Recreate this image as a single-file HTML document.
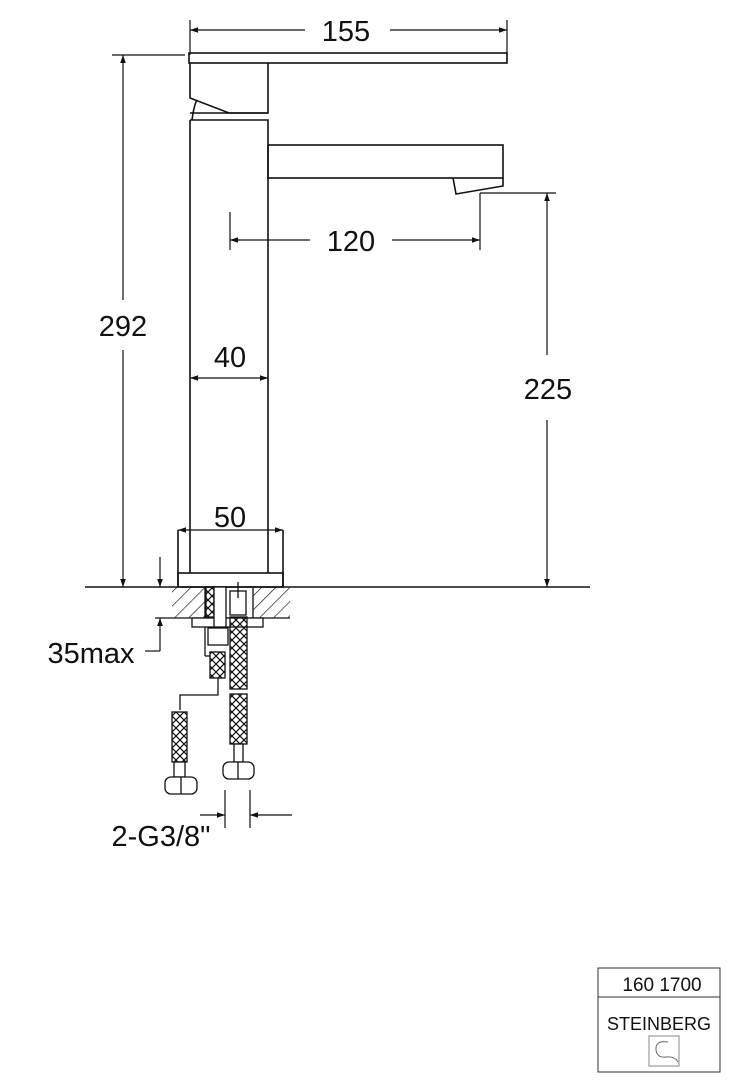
<!DOCTYPE html>
<html><head><meta charset="utf-8"><style>
body{margin:0;background:#fff}
svg{display:block}
text{font-family:"Liberation Sans",sans-serif;fill:#111}
</style></head><body>
<svg width="745" height="1080" viewBox="0 0 745 1080" xmlns="http://www.w3.org/2000/svg">
<defs>
<marker id="a" viewBox="0 0 10 10" refX="10" refY="5" markerWidth="10" markerHeight="8" orient="auto-start-reverse" markerUnits="userSpaceOnUse"><path d="M0,1.5 L10,5 L0,8.5 z" fill="#111"/></marker>
<pattern id="h" width="10" height="10" patternUnits="userSpaceOnUse" patternTransform="rotate(45)"><line x1="0" y1="0" x2="0" y2="10" stroke="#111" stroke-width="1.3"/></pattern>
<pattern id="x" width="8" height="8" patternUnits="userSpaceOnUse"><path d="M0,0 L8,8 M8,0 L0,8" stroke="#111" stroke-width="1.2"/></pattern>
</defs>
<g fill="none" stroke="#111" stroke-width="1.6">
<rect x="189" y="53" width="318" height="10"/>
<path d="M190,63 L190,98 L229,113 L268,113 L268,63"/>
<path d="M192,120 Q194,105 197,100"/>
<line x1="190" y1="113" x2="268" y2="113"/>
<path d="M190,120 L268,120 L268,540 M190,120 L190,540"/>
<rect x="268" y="145" width="235" height="33"/>
<path d="M453,178 L456,194 L503,186 L503,178"/>
<rect x="178" y="573" width="105" height="14"/>
<line x1="178" y1="530" x2="178" y2="587"/><line x1="283" y1="530" x2="283" y2="587"/>
<line x1="190" y1="540" x2="190" y2="573"/><line x1="268" y1="540" x2="268" y2="573"/>
<line x1="85" y1="587" x2="590" y2="587"/>
</g>
<g stroke="#111" stroke-width="1.2" fill="none">
<line x1="190" y1="20" x2="190" y2="55"/><line x1="507" y1="20" x2="507" y2="55"/>
<line x1="190" y1="30" x2="305" y2="30" marker-start="url(#a)"/><line x1="390" y1="30" x2="507" y2="30" marker-end="url(#a)"/>
<line x1="112" y1="55" x2="185" y2="55"/>
<line x1="123" y1="55" x2="123" y2="300" marker-start="url(#a)"/><line x1="123" y1="350" x2="123" y2="587" marker-end="url(#a)"/>
<line x1="230" y1="212" x2="230" y2="250"/><line x1="480" y1="193" x2="480" y2="250"/><line x1="480" y1="193" x2="556" y2="193"/>
<line x1="230" y1="240" x2="310" y2="240" marker-start="url(#a)"/><line x1="392" y1="240" x2="480" y2="240" marker-end="url(#a)"/>
<line x1="547" y1="193" x2="547" y2="355" marker-start="url(#a)"/><line x1="547" y1="420" x2="547" y2="587" marker-end="url(#a)"/>
<line x1="190" y1="378" x2="268" y2="378" marker-start="url(#a)" marker-end="url(#a)"/>
<line x1="178" y1="530" x2="283" y2="530" marker-start="url(#a)" marker-end="url(#a)"/>
<line x1="160" y1="557" x2="160" y2="587" marker-end="url(#a)"/>
<line x1="160" y1="651" x2="160" y2="618" marker-end="url(#a)"/>
<line x1="145" y1="651" x2="160" y2="651"/>
<line x1="155" y1="618" x2="290" y2="618"/>
<line x1="225" y1="790" x2="225" y2="828"/><line x1="250" y1="790" x2="250" y2="828"/>
<line x1="200" y1="815" x2="225" y2="815" marker-end="url(#a)"/><line x1="292" y1="815" x2="250" y2="815" marker-end="url(#a)"/>
</g>
<g stroke="#111" stroke-width="1.3">
<rect x="172" y="587" width="33" height="31" fill="url(#h)" stroke="none"/>
<rect x="253" y="587" width="37" height="31" fill="url(#h)" stroke="none"/>
<line x1="205" y1="587" x2="205" y2="618"/><line x1="253" y1="587" x2="253" y2="618"/>
<rect x="192" y="618" width="71" height="9" fill="#fff"/>
<rect x="206" y="587" width="8" height="30" fill="url(#x)"/>
<rect x="214" y="587" width="12" height="40" fill="#fff"/>
<rect x="208" y="628" width="20" height="17" fill="#fff"/>
<line x1="205" y1="627" x2="205" y2="656" /><line x1="205" y1="656" x2="210" y2="656"/>
<rect x="210" y="652" width="15" height="26" fill="url(#x)"/>
<rect x="230" y="591" width="16" height="24" fill="#fff"/>
<rect x="230" y="617" width="17" height="72" fill="url(#x)"/>
<rect x="230" y="694" width="17" height="50" fill="url(#x)"/>
<rect x="234" y="744" width="9" height="18" fill="#fff"/>
<rect x="223" y="762" width="31" height="17" rx="6" fill="#fff"/>
<line x1="238" y1="762" x2="238" y2="779"/>
<path d="M218,678 L218,695 L180,695 L180,710" fill="none"/>
<rect x="172" y="712" width="15" height="50" fill="url(#x)"/>
<rect x="174" y="762" width="11" height="15" fill="#fff"/>
<rect x="165" y="777" width="32" height="17" rx="6" fill="#fff"/>
<line x1="181" y1="777" x2="181" y2="794"/>
<line x1="238" y1="582" x2="238" y2="598"/>
</g>
<g font-size="29" text-anchor="middle">
<text x="346" y="41">155</text>
<text x="123" y="336">292</text>
<text x="351" y="251">120</text>
<text x="548" y="399">225</text>
<text x="230" y="367">40</text>
<text x="230" y="527">50</text>
<text x="91" y="663">35max</text>
<text x="161" y="846">2-G3/8"</text>
</g>
<g stroke="#333" stroke-width="1" fill="none">
<rect x="598" y="968" width="122" height="104"/>
<line x1="598" y1="997" x2="720" y2="997"/>
<rect x="649" y="1036" width="30" height="30" stroke="#888"/>
<path d="M668,1042 Q655,1040 656,1050 Q657,1058 666,1057 Q675,1056 678,1062" stroke="#666"/>
</g>
<text x="662" y="991" font-size="19" text-anchor="middle">160 1700</text>
<text x="659" y="1030" font-size="18" text-anchor="middle" fill="#444" textLength="104" lengthAdjust="spacingAndGlyphs">STEINBERG</text>
</svg>
</body></html>
